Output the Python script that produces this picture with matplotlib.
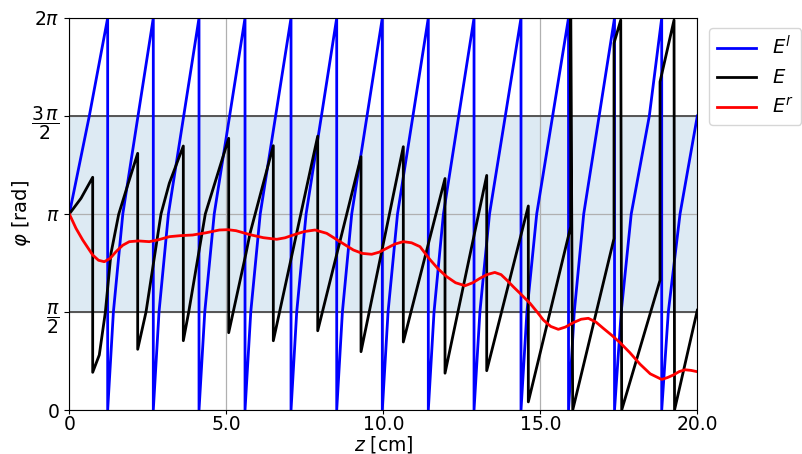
import numpy as np
import matplotlib
matplotlib.use("Agg")
import matplotlib.pyplot as plt

# phase of the left-going field E^l: (z [cm], phi / pi)
el_z = [0.0, 0.637, 1.222,
        1.222, 1.404, 1.704, 2.188, 2.675,
        2.675, 2.857, 3.156, 3.643, 4.131,
        4.131, 4.314, 4.615, 5.105, 5.596,
        5.596, 5.779, 6.080, 6.570, 7.061,
        7.061, 7.242, 7.541, 8.029, 8.516,
        8.516, 8.697, 8.994, 9.481, 9.968,
        9.968, 10.151, 10.452, 10.943, 11.433,
        11.433, 11.615, 11.914, 12.401, 12.889,
        12.889, 13.076, 13.382, 13.885, 14.385,
        14.385, 14.573, 14.885, 15.392, 15.898,
        15.898, 16.081, 16.382, 16.873, 17.363,
        17.363, 17.576, 17.895, 18.471, 18.866,
        18.866, 19.076, 19.449, 20.0]
el_phi = [1.0, 1.5, 2.0,
          0.0, 0.5, 1.0, 1.5, 2.0,
          0.0, 0.5, 1.0, 1.5, 2.0,
          0.0, 0.5, 1.0, 1.5, 2.0,
          0.0, 0.5, 1.0, 1.5, 2.0,
          0.0, 0.5, 1.0, 1.5, 2.0,
          0.0, 0.5, 1.0, 1.5, 2.0,
          0.0, 0.5, 1.0, 1.5, 2.0,
          0.0, 0.5, 1.0, 1.5, 2.0,
          0.0, 0.5, 1.0, 1.5, 2.0,
          0.0, 0.5, 1.0, 1.5, 2.0,
          0.0, 0.5, 1.0, 1.5, 2.0,
          0.0, 0.5, 1.0, 1.5, 2.0,
          0.0, 0.5, 1.0, 1.5]

# phase of the total field E: (z [cm], phi [rad])
e_z = [0.0, 0.373, 0.745,
       0.745, 0.955, 1.146, 1.328, 1.573, 1.860, 2.178,
       2.178, 2.443, 2.920, 3.185, 3.631,
       3.631, 3.803, 4.331, 5.076,
       5.076, 5.627, 5.755, 6.497,
       6.497, 7.911,
       7.911, 9.290,
       9.290, 10.637,
       10.637, 11.965,
       11.965, 13.293,
       13.293, 14.618,
       14.618, 15.968, 15.968,
       16.032, 17.347, 17.347, 17.561,
       17.592, 18.812, 18.812, 19.258,
       19.274, 20.0]
e_phi = [3.142, 3.393, 3.730,
         0.604, 0.882, 1.560, 2.511, 3.137, 3.606, 4.114,
         0.973, 1.571, 3.142, 3.634, 4.231,
         1.111, 1.571, 3.142, 4.355,
         1.239, 2.511, 2.830, 4.236,
         1.110, 4.390,
         1.270, 4.060,
         0.935, 4.220,
         1.090, 3.710,
         0.590, 3.760,
         0.630, 3.270,
         0.130, 2.940, 6.283,
         0.0, 2.750, 5.880, 6.250,
         0.0, 2.080, 5.260, 6.250,
         0.0, 1.600]

# phase of the right-going field E^r: (z [cm], phi [rad])
er_z = [0.0, 0.213, 0.427, 0.745, 0.93, 1.115, 1.3, 1.487, 1.7, 1.911,
        2.2, 2.548, 2.85, 3.185, 3.55, 3.930, 4.35, 4.777, 5.05, 5.309,
        5.755, 6.178, 6.605, 6.87, 7.134, 7.48, 7.825, 8.197, 8.621, 9.045,
        9.33, 9.631, 9.87, 10.108, 10.37, 10.637, 10.9, 11.169, 11.487, 11.75,
        12.019, 12.3, 12.602, 12.85, 13.080, 13.3, 13.55, 13.75, 13.93, 14.15,
        14.354, 14.672, 14.9, 15.096, 15.33, 15.573, 15.8, 16.051, 16.3, 16.529,
        16.77, 17.006, 17.27, 17.538, 17.85, 18.175, 18.5, 18.866, 19.05, 19.236,
        19.42, 19.608, 19.8, 20.0]
er_phi = [3.142, 2.912, 2.725, 2.484, 2.400, 2.377, 2.430, 2.537, 2.640, 2.698,
          2.710, 2.698, 2.730, 2.778, 2.795, 2.805, 2.840, 2.885, 2.890, 2.874,
          2.810, 2.762, 2.736, 2.760, 2.805, 2.860, 2.885, 2.832, 2.698, 2.565,
          2.510, 2.496, 2.530, 2.592, 2.660, 2.698, 2.680, 2.618, 2.410, 2.260,
          2.137, 2.040, 1.992, 2.040, 2.111, 2.170, 2.205, 2.170, 2.084, 1.970,
          1.870, 1.710, 1.570, 1.443, 1.340, 1.293, 1.330, 1.400, 1.455, 1.470,
          1.410, 1.309, 1.200, 1.080, 0.920, 0.735, 0.580, 0.490, 0.520, 0.561,
          0.615, 0.645, 0.635, 0.614]

yticks = [0, np.pi / 2, np.pi, 3 * np.pi / 2, 2 * np.pi]
ytick_labels = ["$0$", r"$\dfrac{\pi}{2}$", r"$\pi$", r"$\dfrac{3\,\pi}{2}$", r"$2\pi$"]
xticks = [0, 5, 10, 15, 20]
xtick_labels = ["0", "5.0", "10.0", "15.0", "20.0"]

fig = plt.figure(figsize=(8.03, 4.54), dpi=100)
ax = fig.add_axes([0.0863, 0.0969, 0.7821, 0.8635])

ax.axhspan(np.pi / 2, 3 * np.pi / 2, color="C0", alpha=0.15, lw=0)
ax.grid(True, color="#b0b0b0", lw=0.9, zorder=0)
ax.axhline(np.pi / 2, color="#555555", lw=1.4)
ax.axhline(3 * np.pi / 2, color="#555555", lw=1.4)

ax.plot(el_z, np.array(el_phi) * np.pi, color="blue", lw=2, label="$E^l$")
ax.plot(e_z, e_phi, color="black", lw=2, label="$E$")
ax.plot(er_z, er_phi, color="red", lw=2, label="$E^r$")

ax.set_xlim(0, 20)
ax.set_ylim(0, 2 * np.pi)
ax.set_xticks(xticks)
ax.set_xticklabels(xtick_labels)
ax.set_yticks(yticks)
ax.set_yticklabels(ytick_labels)
ax.tick_params(labelsize=13.5)
ax.tick_params(axis="x", pad=0.5, length=3)
ax.set_xlabel("$z$ [cm]", fontsize=13.5)
ax.set_ylabel(r"$\varphi$ [rad]", fontsize=14)
ax.xaxis.set_label_coords(0.5, -0.06)
ax.yaxis.set_label_coords(-0.058, 0.5)

ax.legend(loc="upper left", bbox_to_anchor=(1.01, 0.99), fontsize=14,
          handlelength=2.0, borderaxespad=0.3)

fig.savefig("out.png", dpi=100)
